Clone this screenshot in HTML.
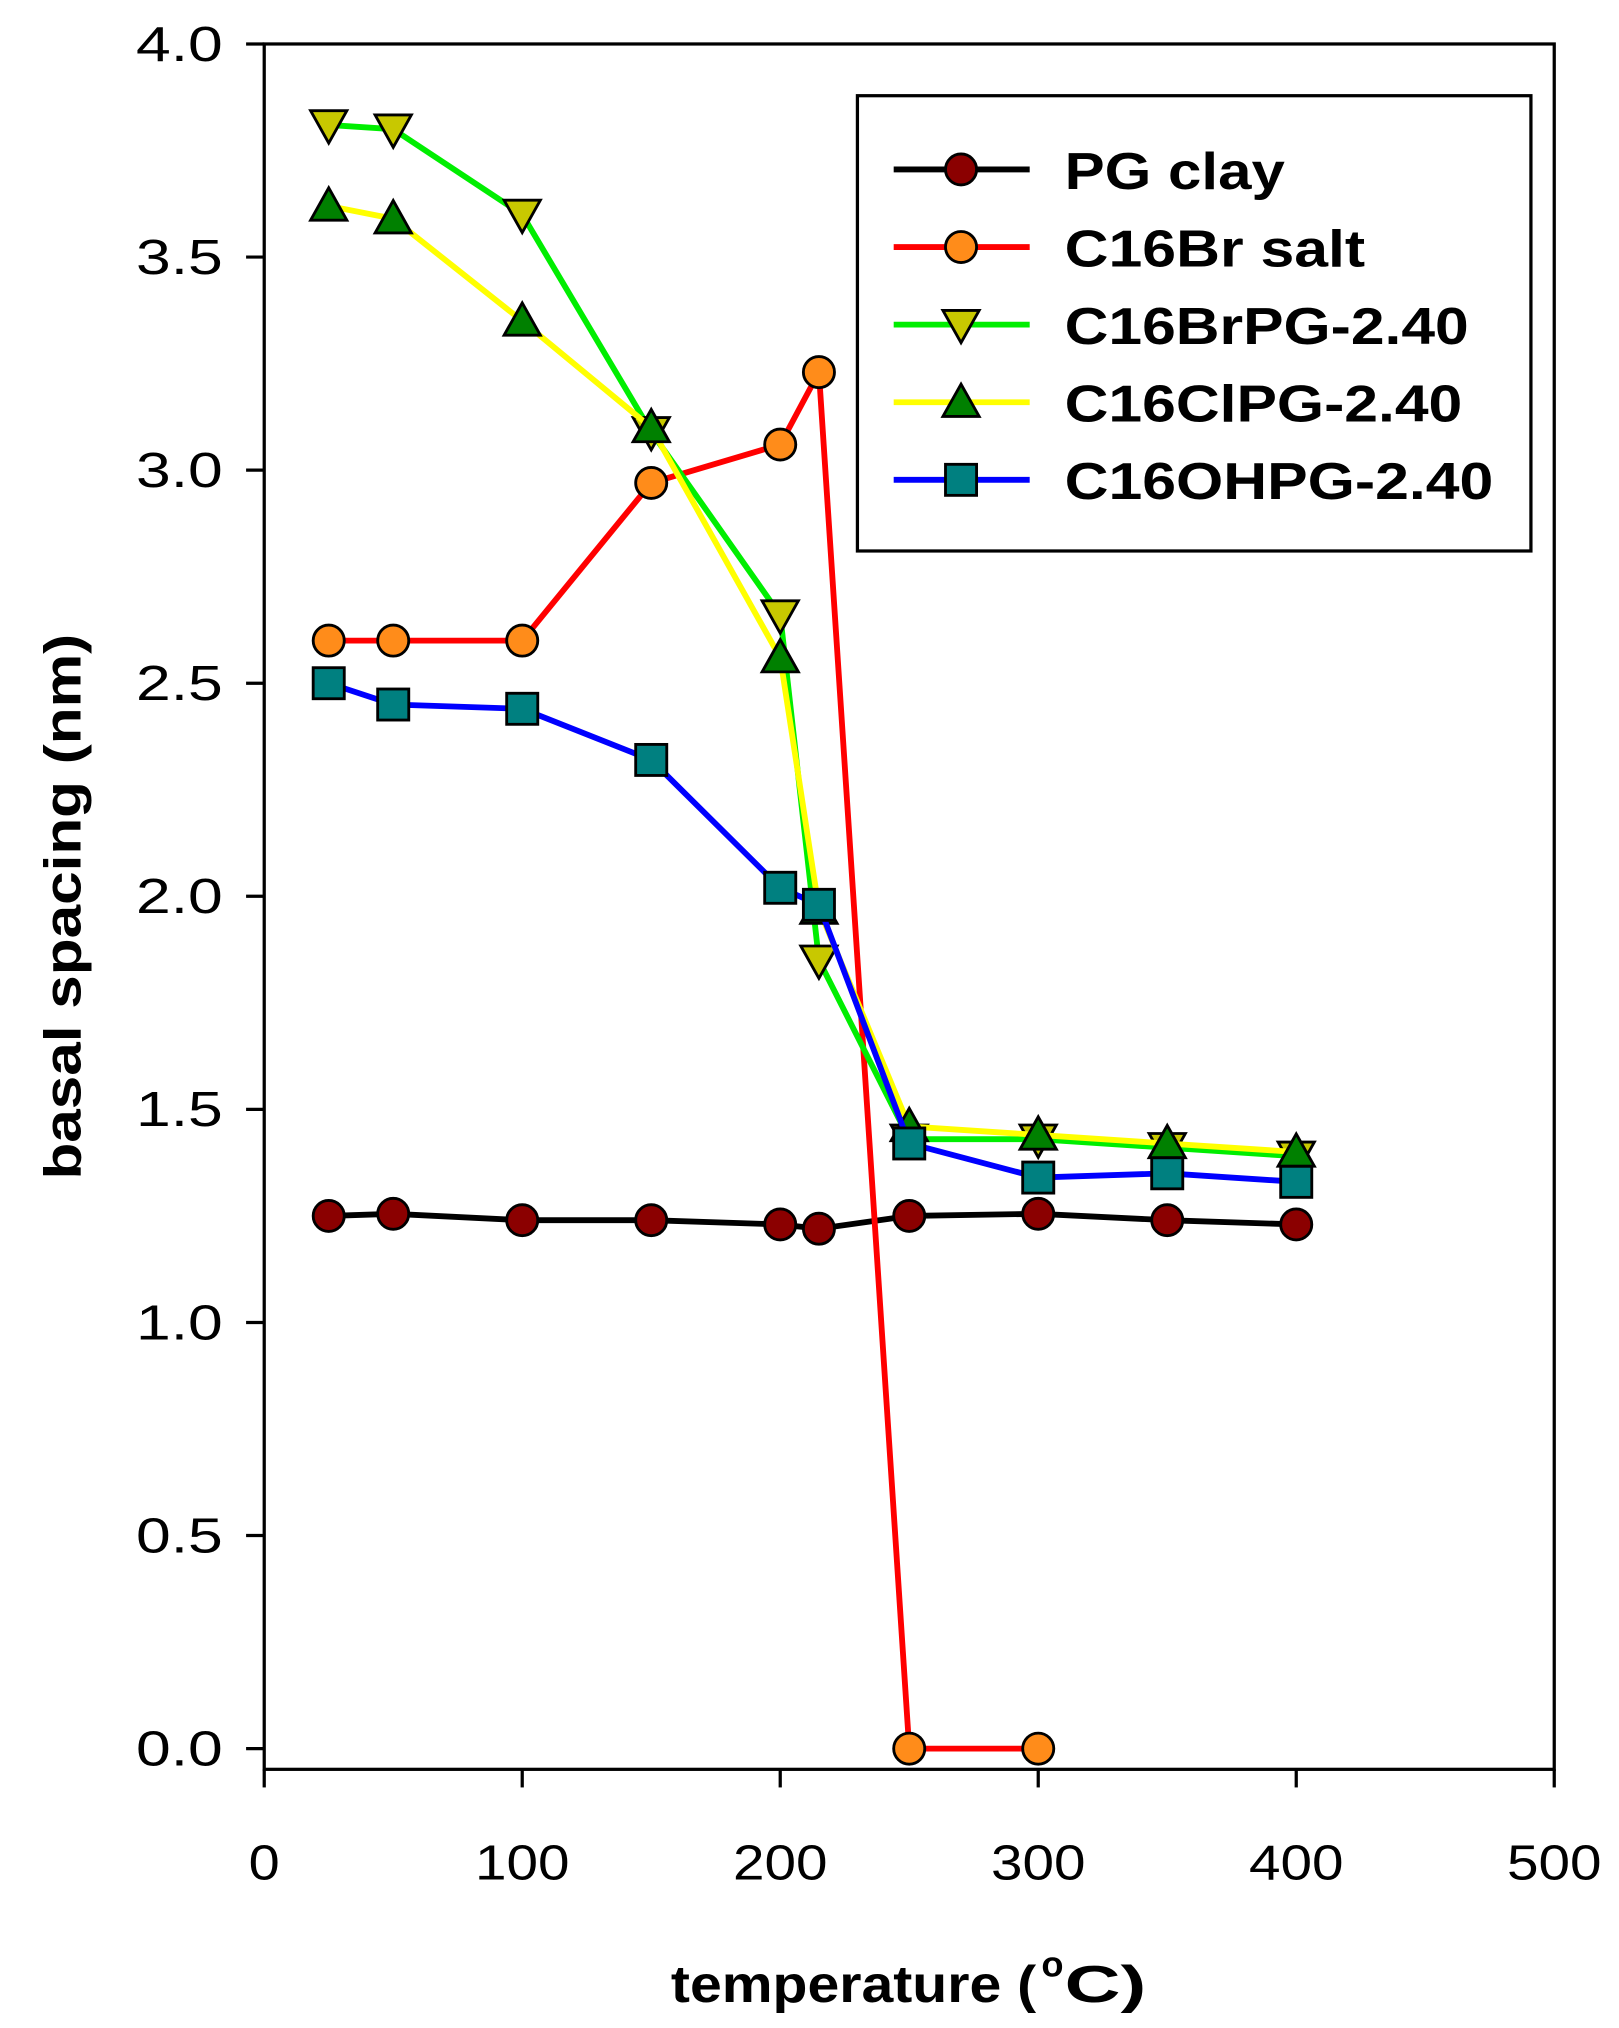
<!DOCTYPE html>
<html><head><meta charset="utf-8"><style>
html,body{margin:0;padding:0;background:#fff;}
svg{display:block;}
text{font-family:"Liberation Sans",Arial,sans-serif;}
</style></head><body>
<svg id="s" width="1619" height="2028" viewBox="0 0 1250 1568" preserveAspectRatio="none" xmlns="http://www.w3.org/2000/svg"></svg>
<script>
const s=document.getElementById('s');
const X=t=>204+1.992*t, Y=v=>1352-329.5*v;
let h='';
const LA='lengthAdjust="spacingAndGlyphs"';
h+='<rect x="204" y="34" width="996" height="1334" fill="none" stroke="#000" stroke-width="2.5"/>';
for(let i=0;i<=8;i++){const v=i*0.5,y=Y(v);h+=`<line x1="190" y1="${y}" x2="204" y2="${y}" stroke="#000" stroke-width="2.5"/><text x="105" y="${y+13}" font-size="38" textLength="67" ${LA}>${v.toFixed(1)}</text>`;}
for(let i=0;i<=5;i++){const x=X(i*100);const lbl=String(i*100);const w=lbl.length==1?24:73;h+=`<line x1="${x}" y1="1368" x2="${x}" y2="1382" stroke="#000" stroke-width="2.5"/><text x="${x-w/2}" y="1453" font-size="38" textLength="${w}" ${LA}>${lbl}</text>`;}
h+='<text x="518" y="1548" font-size="40" font-weight="bold" textLength="282" '+LA+'>temperature (</text><text x="804" y="1528" font-size="28" font-weight="bold">o</text><text x="822" y="1548" font-size="40" font-weight="bold" textLength="63" '+LA+'>C)</text>';
h+='<text transform="translate(62,912) rotate(-90)" font-size="40" font-weight="bold" textLength="422" '+LA+'>basal spacing (nm)</text>';
const T=[25,50,100,150,200,215,250,300,350,400];
const series=[
 {c:'#000',f:'#8B0000',m:'c',d:[1.25,1.255,1.24,1.24,1.23,1.22,1.25,1.255,1.24,1.23],n:'PG clay',w:170},
 {c:'#FF0000',f:'#FF8C1A',m:'c',d:[2.6,2.6,2.6,2.97,3.06,3.23,0,0],n:'C16Br salt',w:232},
 {c:'#00EE00',f:'#C8C800',m:'d',d:[3.81,3.80,3.6,3.09,2.66,1.85,1.43,1.43,1.41,1.39],n:'C16BrPG-2.40',w:312},
 {c:'#FFFF00',f:'#008000',m:'u',d:[3.62,3.59,3.35,3.1,2.56,1.97,1.46,1.44,1.42,1.40],n:'C16ClPG-2.40',w:307},
 {c:'#0000FF',f:'#008080',m:'s',d:[2.5,2.45,2.44,2.32,2.02,1.98,1.42,1.34,1.35,1.33],n:'C16OHPG-2.40',w:331}
];
function mk(m,x,y,f){
 if(m=='c')return `<circle cx="${x}" cy="${y}" r="12" fill="${f}" stroke="#000" stroke-width="2.2"/>`;
 if(m=='s')return `<rect x="${x-12}" y="${y-12}" width="24" height="24" fill="${f}" stroke="#000" stroke-width="2.2"/>`;
 if(m=='d')return `<polygon points="${x-14},${y-11} ${x+14},${y-11} ${x},${y+14}" fill="${f}" stroke="#000" stroke-width="2.2"/>`;
 return `<polygon points="${x-14},${y+11} ${x+14},${y+11} ${x},${y-14}" fill="${f}" stroke="#000" stroke-width="2.2"/>`;
}
series.forEach(se=>{
 const pts=se.d.map((v,i)=>[X(T[i]),Y(v)]);
 h+=`<polyline points="${pts.map(p=>p.join(',')).join(' ')}" fill="none" stroke="${se.c}" stroke-width="4.5"/>`;
 pts.forEach(p=>h+=mk(se.m,p[0],p[1],se.f));
});
h+='<rect x="662" y="74" width="520" height="352" fill="#fff" stroke="#000" stroke-width="2.5"/>';
series.forEach((se,i)=>{const y=131+60*i;
 h+=`<line x1="690" y1="${y}" x2="795" y2="${y}" stroke="${se.c}" stroke-width="4.5"/>`+mk(se.m,742,y,se.f)+
 `<text x="822" y="${y+15}" font-size="40" font-weight="bold" textLength="${se.w}" ${LA}>${se.n}</text>`;});
s.innerHTML=h;
</script>
</body></html>
